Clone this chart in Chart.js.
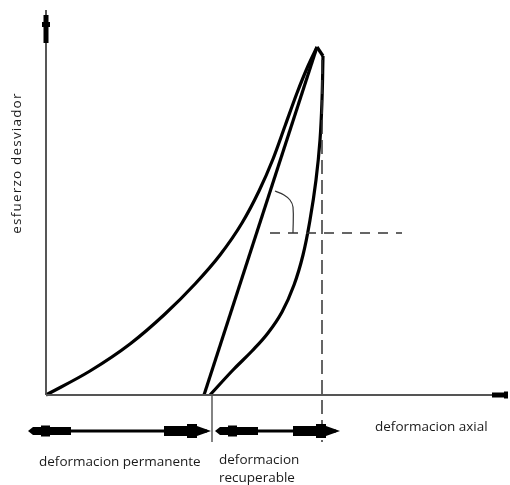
<!DOCTYPE html>
<html>
<head>
<meta charset="utf-8">
<script src="https://cdn.jsdelivr.net/npm/chart.js@4"></script>
<style>
  html, body { margin: 0; padding: 0; background: #fff; }
  #grafico { display: block; }
</style>
</head>
<body>
<canvas id="grafico" width="510" height="485"></canvas>
<script>
  // deformacion axial (x) / esfuerzo desviador (y), origen en el cruce de los ejes
  var carga = [
    { x: 0, y: 0 }, { x: 44, y: 24 }, { x: 84, y: 51 }, { x: 119, y: 81 },
    { x: 149, y: 111 }, { x: 174, y: 140 }, { x: 196, y: 172 }, { x: 213, y: 204 },
    { x: 227, y: 236 }, { x: 239, y: 269 }, { x: 251, y: 302 }, { x: 262, y: 329 },
    { x: 271, y: 348 }
  ];
  var recarga = [{ x: 158, y: 0 }, { x: 271, y: 348 }];
  var picoDescarga = [{ x: 271, y: 348 }, { x: 277, y: 339 }];
  var descarga = [
    { x: 277, y: 339 }, { x: 276, y: 295 }, { x: 274, y: 255 }, { x: 270, y: 215 },
    { x: 264, y: 175 }, { x: 257, y: 140 }, { x: 248, y: 110 }, { x: 236, y: 83 },
    { x: 222, y: 62 }, { x: 206, y: 44 }, { x: 187, y: 25 }, { x: 164, y: 0 }
  ];
  var ejeX = [{ x: 0, y: 0 }, { x: 462, y: 0 }];
  var ejeY = [{ x: 0, y: 0 }, { x: 0, y: 385 }];
  var limiteRecuperable = [{ x: 166, y: 0 }, { x: 166, y: -47 }];
  var guiaVertical = [{ x: 276, y: 335 }, { x: 276, y: -47 }];
  var guiaHorizontal = [{ x: 224, y: 162 }, { x: 356, y: 162 }];
  var anguloModulo = [
    { x: 229, y: 204 }, { x: 238, y: 200 }, { x: 244, y: 195 }, { x: 247, y: 188 }, { x: 247, y: 162 }
  ];
  // tramos de las flechas dobles bajo el eje
  var tramoPermanente = [-18, 165];
  var tramoRecuperable = [169, 294];
  var nivelFlechas = -36;

  var fuente = '13.5px "Open Sans", "DejaVu Sans", sans-serif';
  var etiquetas = [
    { texto: "deformacion axial", x: 329, y: -32 },
    { texto: "deformacion permanente", x: -7, y: -67 },
    { texto: "deformacion", x: 173, y: -65 },
    { texto: "recuperable", x: 173, y: -83 }
  ];

  function linea(data, ancho, color, guiones, tension, monotona) {
    return {
      data: data,
      borderColor: color,
      borderWidth: ancho,
      borderDash: guiones || [],
      tension: tension || 0,
      cubicInterpolationMode: monotona ? "monotone" : "default",
      pointRadius: 0,
      fill: false,
      clip: false
    };
  }

  function poligono(ctx, pts) {
    ctx.beginPath();
    ctx.moveTo(pts[0][0], pts[0][1]);
    for (var i = 1; i < pts.length; i++) ctx.lineTo(pts[i][0], pts[i][1]);
    ctx.closePath();
    ctx.fill();
  }

  /*flechas y textos*/
  var dibujo = {
    id: "dibujo",
    afterDatasetsDraw: function (chart) {
      var ctx = chart.ctx, sx = chart.scales.x, sy = chart.scales.y;
      ctx.save();
      ctx.fillStyle = "#000";

      [tramoPermanente, tramoRecuperable].forEach(function (t) {
        var a = sx.getPixelForValue(t[0]);
        var b = sx.getPixelForValue(t[1]);
        var y = sy.getPixelForValue(nivelFlechas);
        ctx.fillRect(a + 4, y - 1.5, b - a - 8, 3);
        poligono(ctx, [[a, y], [a + 5, y - 4], [a + 43, y - 4], [a + 43, y + 4], [a + 5, y + 4]]);
        ctx.fillRect(a + 13, y - 5.5, 9, 11);
        poligono(ctx, [[b, y], [b - 14, y - 5], [b - 47, y - 5], [b - 47, y + 5], [b - 14, y + 5]]);
        ctx.fillRect(b - 24, y - 7, 10, 14);
      });

      // puntas de los ejes
      var x0 = sx.getPixelForValue(ejeY[1].x);
      var arriba = sy.getPixelForValue(ejeY[1].y);
      ctx.fillRect(x0 - 2.5, arriba + 5, 5, 28);
      ctx.fillRect(x0 - 4, arriba + 12, 8, 5);
      var y0 = sy.getPixelForValue(ejeX[1].y);
      var derecha = sx.getPixelForValue(ejeX[1].x);
      ctx.fillRect(derecha - 16, y0 - 2.5, 16, 5);
      ctx.fillRect(derecha - 4, y0 - 3.5, 4, 7);

      ctx.fillStyle = "#1a1a1a";
      ctx.font = fuente;
      ctx.textBaseline = "middle";
      ctx.textAlign = "left";
      etiquetas.forEach(function (e) {
        ctx.fillText(e.texto, sx.getPixelForValue(e.x), sy.getPixelForValue(e.y));
      });

      ctx.translate(sx.getPixelForValue(-29), sy.getPixelForValue(232));
      ctx.rotate(-Math.PI / 2);
      ctx.textAlign = "center";
      ctx.letterSpacing = "1.2px";
      ctx.fillText("esfuerzo desviador", 0, 0);
      ctx.restore();
    }
  };

  var ctx = document.getElementById("grafico").getContext("2d");
  new Chart(ctx, {
    type: "line",
    data: {
      datasets: [
        linea(ejeX, 1.8, "#555"),
        linea(ejeY, 1.8, "#444"),
        linea(limiteRecuperable, 1.2, "#333"),
        linea(guiaVertical, 1.5, "#333", [14, 6]),
        linea(guiaHorizontal, 1.5, "#333", [10, 8]),
        linea(anguloModulo, 1.2, "#333", null, 0.4),
        linea(carga, 3.2, "#000", null, 0.4, true),
        linea(recarga, 3.2, "#000"),
        linea(picoDescarga, 3.2, "#000"),
        linea(descarga, 3.2, "#000", null, 0.4)
      ]
    },
    options: {
      responsive: false,
      animation: false,
      layout: { padding: 0 },
      scales: {
        x: { type: "linear", min: -46, max: 464, display: false },
        y: { type: "linear", min: -90, max: 395, display: false }
      },
      plugins: {
        legend: { display: false },
        tooltip: { enabled: false }
      }
    },
    plugins: [dibujo]
  });
</script>
</body>
</html>
